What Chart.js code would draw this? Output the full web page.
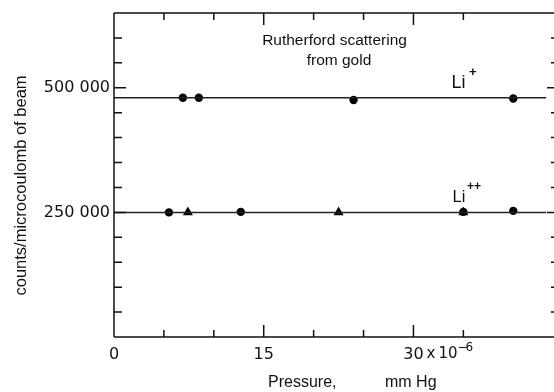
<!DOCTYPE html>
<html lang="en">
<head>
    <meta charset="UTF-8">
    <title>Rutherford scattering from gold</title>
    <script src="https://cdn.jsdelivr.net/npm/chart.js"></script>
    <style>
        html, body { margin: 0; padding: 0; background: #fff; }
        #wrap { width: 554px; height: 392px; }
    </style>
</head>
<body>
    <div id="wrap"><canvas id="scatterChart" width="554" height="392"></canvas></div>

    <script>
        // Pressure in units of 10^-6 mm Hg, counts per microcoulomb of beam
        const liPlusX = [6.9, 8.5, 24.0, 40.0];
        const liPlusY = [480000, 480000, 475500, 478500];
        const liPlusLevel = 480000;

        const liPlusPlusCircleX = [5.5, 12.7, 35.0, 40.0];
        const liPlusPlusCircleY = [250000, 251000, 251000, 253000];
        const liPlusPlusTriangleX = [7.4, 22.5, 35.0];
        const liPlusPlusTriangleY = [250000, 250000, 250000];
        const liPlusPlusLevel = 250000;

        const levelLineX = [0, 43.3];

        const xTickLabels = { 0: '0', 15: '15', 30: '30' };
        const yTickLabels = { 250000: '250 000', 500000: '500 000' };
        const xMajorTicks = [15, 30];
        const yMajorTicks = [250000, 500000];

        const ink = '#111';
        const textFont = '"Liberation Sans", Arial, sans-serif';
        const numFont = '"DejaVu Sans", sans-serif';

        function toPoints(xs, ys) {
            return xs.map((x, i) => ({ x: x, y: ys[i] }));
        }

        function levelLine(value) {
            return levelLineX.map(x => ({ x: x, y: value }));
        }

        // Frame, inward ticks and the annotation texts
        const framePlugin = {
            id: 'frame',
            afterDraw(chart) {
                const ctx = chart.ctx;
                const area = chart.chartArea;
                const xs = chart.scales.x;
                const ys = chart.scales.y;
                const W = chart.width;

                ctx.save();
                ctx.strokeStyle = ink;
                ctx.lineWidth = 1.5;

                // left, top and bottom axis lines
                ctx.beginPath();
                ctx.moveTo(area.left, area.top);
                ctx.lineTo(area.left, area.bottom);
                ctx.moveTo(area.left, area.top);
                ctx.lineTo(W, area.top);
                ctx.moveTo(area.left, area.bottom);
                ctx.lineTo(W, area.bottom);
                ctx.stroke();

                // x ticks on top and bottom, pointing inward
                ctx.beginPath();
                xs.ticks.forEach(t => {
                    if (t.value === 0 || t.value % 5 !== 0) return;
                    const px = xs.getPixelForValue(t.value);
                    const len = xMajorTicks.includes(t.value) ? 12 : 7;
                    ctx.moveTo(px, area.bottom);
                    ctx.lineTo(px, area.bottom - len);
                    ctx.moveTo(px, area.top);
                    ctx.lineTo(px, area.top + len);
                });
                // y ticks on left and right
                ys.ticks.forEach(t => {
                    if (t.value === 0 || t.value >= ys.max) return;
                    const py = ys.getPixelForValue(t.value);
                    const major = yMajorTicks.includes(t.value);
                    ctx.moveTo(area.left, py);
                    ctx.lineTo(area.left + (major ? 12 : 8), py);
                    ctx.moveTo(W, py);
                    ctx.lineTo(W - (major ? 7 : 3), py);
                });
                ctx.stroke();

                ctx.fillStyle = ink;
                ctx.textBaseline = 'alphabetic';

                // exponent after the 30 tick label
                const x30 = xs.getPixelForValue(30);
                ctx.textAlign = 'left';
                ctx.font = '15px ' + numFont;
                ctx.fillText('x', x30 + 13, 358);
                ctx.fillText('10', x30 + 25, 358);
                ctx.font = '12px ' + numFont;
                ctx.fillText('\u2212', x30 + 44, 350.5);
                ctx.fillText('6', x30 + 52, 350.5);

                // x axis title
                ctx.font = '16px ' + textFont;
                ctx.fillText('Pressure,', 268, 387);
                ctx.fillText('mm Hg', 385, 387);

                // y axis title
                ctx.save();
                ctx.translate(26, 185.5);
                ctx.rotate(-Math.PI / 2);
                ctx.textAlign = 'center';
                ctx.font = '16.5px ' + textFont;
                ctx.fillText('counts/microcoulomb of beam', 0, 0);
                ctx.restore();

                // inset heading
                ctx.textAlign = 'center';
                ctx.font = '15.5px ' + textFont;
                ctx.fillText('Rutherford scattering', 334.5, 45);
                ctx.fillText('from gold', 339, 64.5);

                // series labels
                ctx.textAlign = 'left';
                ctx.font = '18px ' + textFont;
                ctx.fillText('Li', 451.5, 88);
                ctx.font = 'bold 13px ' + textFont;
                ctx.fillText('+', 469, 76);
                ctx.font = '16.5px ' + textFont;
                ctx.fillText('Li', 452.5, 201.5);
                ctx.font = 'bold 12px ' + textFont;
                ctx.fillText('++', 467, 189.5);

                ctx.restore();
            }
        };

        const ctx = document.getElementById('scatterChart');
        new Chart(ctx, {
            type: 'scatter',
            data: {
                datasets: [
                    {
                        label: 'Li+ level',
                        type: 'line',
                        data: levelLine(liPlusLevel),
                        borderColor: '#222',
                        borderWidth: 1.5,
                        pointRadius: 0,
                        showLine: true
                    },
                    {
                        label: 'Li++ level',
                        type: 'line',
                        data: levelLine(liPlusPlusLevel),
                        borderColor: '#222',
                        borderWidth: 1.5,
                        pointRadius: 0,
                        showLine: true
                    },
                    {
                        label: 'Li+',
                        data: toPoints(liPlusX, liPlusY),
                        pointStyle: 'circle',
                        pointRadius: 4.2,
                        backgroundColor: '#000',
                        borderColor: '#000',
                        borderWidth: 0
                    },
                    {
                        label: 'Li++ (circles)',
                        data: toPoints(liPlusPlusCircleX, liPlusPlusCircleY),
                        pointStyle: 'circle',
                        pointRadius: 4.2,
                        backgroundColor: '#000',
                        borderColor: '#000',
                        borderWidth: 0
                    },
                    {
                        label: 'Li++ (triangles)',
                        data: toPoints(liPlusPlusTriangleX, liPlusPlusTriangleY),
                        pointStyle: 'triangle',
                        pointRadius: 5.8,
                        backgroundColor: '#000',
                        borderColor: '#000',
                        borderWidth: 0
                    }
                ]
            },
            options: {
                responsive: false,
                animation: false,
                devicePixelRatio: 1,
                layout: { padding: { top: 13, right: 0, left: 0, bottom: 0 } },
                plugins: {
                    legend: { display: false },
                    tooltip: { enabled: false }
                },
                scales: {
                    x: {
                        type: 'linear',
                        min: 0,
                        max: 43.5,
                        grid: { display: false, drawTicks: false },
                        border: { display: false },
                        afterFit(scale) {
                            scale.height = 55;
                            scale.paddingLeft = 0;
                            scale.paddingRight = 0;
                        },
                        ticks: {
                            stepSize: 5,
                            autoSkip: false,
                            maxRotation: 0,
                            padding: 8,
                            color: ink,
                            font: { family: numFont, size: 16 },
                            callback: v => xTickLabels[v] || ''
                        }
                    },
                    y: {
                        min: 0,
                        max: 650000,
                        grid: { display: false, drawTicks: false },
                        border: { display: false },
                        afterFit(scale) {
                            scale.width = 114;
                            scale.paddingTop = 0;
                            scale.paddingBottom = 0;
                        },
                        ticks: {
                            stepSize: 50000,
                            autoSkip: false,
                            padding: 4,
                            color: ink,
                            font: { family: numFont, size: 16 },
                            callback: v => yTickLabels[v] || ''
                        }
                    }
                }
            },
            plugins: [framePlugin]
        });
    </script>
</body>
</html>
